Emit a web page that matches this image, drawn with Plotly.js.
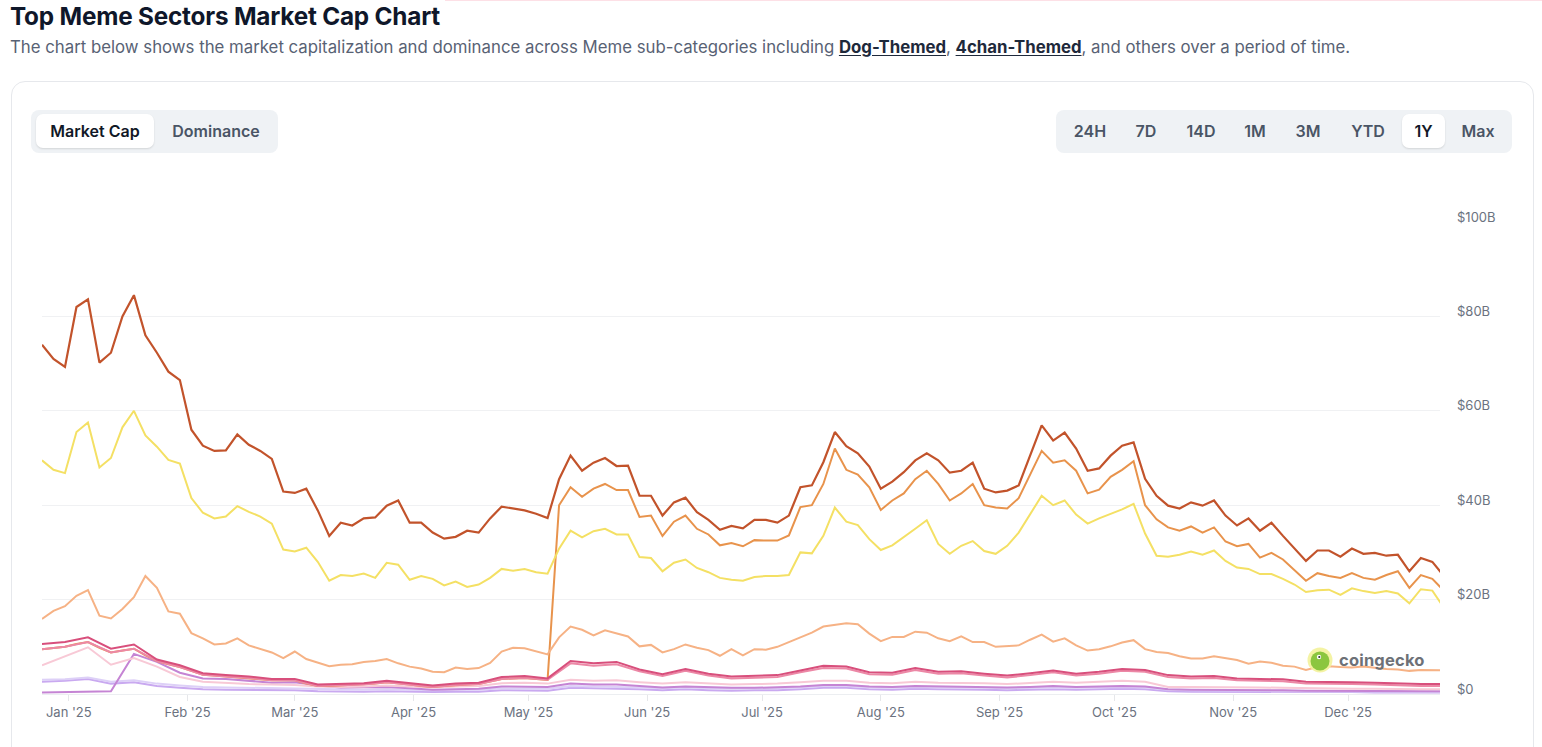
<!DOCTYPE html>
<html>
<head>
<meta charset="utf-8">
<script src="https://cdn.plot.ly/plotly-3.0.1.min.js"></script>
<style>
  html, body { margin:0; padding:0; background:#fff; width:1542px; height:747px; overflow:hidden; font-family: Inter, "Noto Sans", sans-serif; }
  .topline { position:absolute; left:445px; top:0; width:1097px; height:1px; background:#fde0e6; }
  .title { position:absolute; left:10px; top:1px; font-size:24.3px; font-weight:700; color:#0f172a; letter-spacing:-0.2px; }
  .sub { position:absolute; left:10px; top:37px; font-size:16.8px; color:#586274; }
  .sub b { color:#1e293b; font-weight:700; text-decoration:underline; text-underline-offset:2px; }
  .card { position:absolute; left:11px; top:81px; width:1521px; height:720px; border:1px solid #e6e8ec; border-radius:14px; }
  .grp { position:absolute; top:110px; height:43px; background:#eff2f5; border-radius:8px; }
  .btn { position:absolute; top:4px; height:34px; line-height:34px; font-size:16px; font-weight:600; color:#4a5565; text-align:center; }
  .btn.on { background:#fff; color:#111827; border-radius:7px; box-shadow:0 1px 2px rgba(0,0,0,0.12); }
  #chart { position:absolute; left:0; top:0; width:1542px; height:747px; }
  .wm { position:absolute; left:1307px; top:647px; height:26px; display:flex; align-items:center; }
  .wm span { font-size:16.5px; font-weight:700; color:#6e7177; margin-left:6px; letter-spacing:0.2px; }
</style>
</head>
<body>
<div class="topline"></div>
<div class="card"></div>
<div id="chart"></div>
<div class="title">Top Meme Sectors Market Cap Chart</div>
<div class="sub">The chart below shows the market capitalization and dominance across Meme sub-categories including <b>Dog-Themed</b>, <b>4chan-Themed</b>, and others over a period of time.</div>
<div class="grp" style="left:31px;width:247px;">
  <div class="btn on" style="left:5px;width:118px;">Market Cap</div>
  <div class="btn" style="left:128px;width:114px;">Dominance</div>
</div>
<div class="grp" style="left:1056px;width:456px;">
  <div class="btn" style="left:14px;width:40px;">24H</div>
  <div class="btn" style="left:74px;width:32px;">7D</div>
  <div class="btn" style="left:124px;width:42px;">14D</div>
  <div class="btn" style="left:183px;width:32px;">1M</div>
  <div class="btn" style="left:236px;width:32px;">3M</div>
  <div class="btn" style="left:292px;width:40px;">YTD</div>
  <div class="btn on" style="left:346px;width:43px;">1Y</div>
  <div class="btn" style="left:402px;width:40px;">Max</div>
</div>
<div class="wm">
  <svg width="26" height="26" viewBox="0 0 26 26">
    <circle cx="13" cy="13" r="12.5" fill="#f3f29a" opacity="0.9"/>
    <circle cx="13" cy="14" r="9.5" fill="#8cc63f"/>
    <circle cx="12" cy="10" r="2.2" fill="#fff"/>
    <circle cx="12.3" cy="10" r="1.1" fill="#333"/>
  </svg>
  <span>coingecko</span>
</div>
<script>
// ---- categories (dates) ----
const START_DATE = "2024-12-25";
const STEP_MAIN = 3;   // days between points of the large series
const STEP_SMALL = 6;  // days between points of the small series
const RANGE_X = ["2024-12-25", "2025-12-25"];
const monthTicks = ["2025-01-01","2025-02-01","2025-03-01","2025-04-01","2025-05-01","2025-06-01","2025-07-01","2025-08-01","2025-09-01","2025-10-01","2025-11-01","2025-12-01"];
const monthLabels = ["Jan '25","Feb '25","Mar '25","Apr '25","May '25","Jun '25","Jul '25","Aug '25","Sep '25","Oct '25","Nov '25","Dec '25"];
const yTicks = [0,20,40,60,80,100];
const yLabels = ["$0","$20B","$40B","$60B","$80B","$100B"];

// ---- series values, billions USD ----
const dogThemed = [74,71,69.3,82,83.6,70.2,72.3,80,84.5,76,72.3,68.3,66.5,56,52.6,51.5,51.6,55,52.8,51.5,49.8,42.9,42.6,43.5,38.9,33.5,36.3,35.7,37.2,37.4,39.9,41,36.3,36.3,34.2,32.9,33.3,34.6,34.2,37.2,39.7,39.3,38.9,38.2,37.3,45.5,50.5,47.3,49,50,48.3,48.4,42,42,37.8,40.6,41.6,38.5,36.9,34.8,35.6,35.1,36.9,36.9,36.3,37.8,43.8,44.2,49.1,55.5,52.5,51,48.2,43.5,45,47,49.5,51,49.5,46.9,47.3,49,43.5,42.7,43.1,44.2,50.5,56.9,53.7,55.4,52,47.3,47.8,50.5,52.6,53.3,45.6,42,39.9,39.3,40.6,39.9,41,37.8,35.7,37.2,34.6,36.3,33.5,30.8,28.2,30.4,30.4,29.1,30.8,29.7,29.9,29.3,29.5,26,28.8,28,25];
const elonInspired = [9.5,9.8,10,10.6,11,9.8,8.8,9.2,9.6,8.2,7,6.3,5.7,4.9,4.1,3.9,3.7,3.6,3.4,3.2,2.9,2.9,2.9,2.2,1.7,1.7,1.8,1.9,2,2.2,2.5,2.3,2,1.7,1.5,1.7,1.9,2,2.1,2.6,3.2,3.3,3.4,3.2,3,40,43.8,41.8,43.5,44.5,43.2,43.2,37.5,37.8,33.5,36.5,37.8,35,33.8,31.5,32,31.3,32.6,32.5,32.5,33.6,39.6,40,44.5,52,47.5,46.5,43.8,39,41,42.5,45.5,47.3,44.5,41,42.5,44.5,40,39.5,39.3,41.5,46.5,51.5,49,49.5,47.3,42.5,43.3,46,47.5,49.3,40,37,35.3,34.6,35.5,34.2,35.3,32.3,31.3,31.8,28.9,29.9,28.5,26.3,24,25.6,25,24.6,25.6,24.6,24.2,25.2,26,22.5,25.2,24.4,21.9];
const dogeThemed = [49.5,47.5,46.8,55.5,57.5,48,50,56.5,60,54.8,52.4,49.6,48.8,41.5,38.4,37.2,37.6,39.8,38.6,37.6,36.1,30.6,30.2,31,28,24,25.2,25,25.5,24.6,27.8,27.4,24.2,25,24.4,23,23.8,22.7,23.2,24.6,26.5,26.1,26.5,25.8,25.5,30.8,34.6,33.2,34.5,35,33.8,33.8,29,28.8,26,27.8,28.5,26.7,25.8,24.6,24.2,24,24.8,25,25,25.2,30,29.8,33.5,39.5,36.5,35.8,32.8,30.5,31.5,33.2,35,36.8,31.8,29.7,31.4,32.4,30.3,29.7,31.4,34.2,38.2,42,40,41,38,36.1,37.2,38.2,39.1,40.3,34,29.3,29.1,29.5,30.2,29.5,30.4,28.2,26.8,26.5,25.4,25.4,24.4,23.2,21.6,22,22.1,21,22.4,21.8,21.4,21.8,21.3,19.2,22.2,21.9,18.3];
const chan4Themed = [15.9,17.6,18.6,20.8,22,16.6,16,18,20.5,25,22.5,17.5,17,12.9,11.8,10.5,10.7,11.8,10.3,9.6,8.8,7.6,9,7.4,6.6,5.9,6.2,6.3,6.8,7,7.4,6.5,5.8,5.4,4.7,4.6,5.6,5.3,5.5,6.6,9,9.8,9.7,9,8.4,12,14.3,13.6,12.4,13.5,12.8,12.2,10.1,10.4,8.8,9.5,10.5,9.8,9.3,8.1,9.5,8.2,9.5,9.4,10,11,12,13,14.3,14.6,15,14.8,12.8,11.2,12.1,12.1,13.2,13,11.8,11.2,12.2,11,11,10,10.2,10.3,11.5,12.6,11.1,11.8,10.3,9.2,9.5,10.1,10.9,11.4,9.5,8.9,8.7,8,7.5,7.5,8,7.6,7.2,6.4,6.9,6.6,6,5.8,5.1,5.7,5.9,5.7,5.6,5.8,5.5,5.3,5.2,4.9,5.1,5,5];
const frogThemed = [10.6,11,12,9.6,10.5,7.3,6.1,4.4,4,3.7,3.2,3.2,2,2.1,2.3,2.8,2.3,1.8,2.2,2.4,3.6,3.8,3.3,7,6.5,6.8,5.2,4.2,5.3,4.3,3.7,3.9,4,5,6,5.8,4.6,4.5,5.5,4.7,4.8,4.3,3.9,4.4,5,4.3,4.7,5.3,5.1,4,3.7,3.8,3.3,3.2,3.1,2.6,2.6,2.5,2.4,2.2,2.1,2.1];
const solanaMeme = [9.5,10,11,8.8,9.6,7,5.7,4.1,3.7,3.4,2.9,2.9,1.7,1.8,2,2.5,2,1.5,1.9,2.1,3.2,3.4,3,6.5,6,6.3,4.8,3.8,4.9,3.9,3.3,3.5,3.6,4.6,5.5,5.4,4.2,4.1,5.1,4.3,4.4,3.9,3.5,4,4.6,3.9,4.3,4.9,4.7,3.6,3.3,3.4,2.9,2.8,2.7,2.2,2.2,2.1,2,1.8,1.7,1.7];
const catThemed = [6.1,8,9.9,6.2,7.6,5.8,3.6,2.6,2.3,2.1,2,1.9,1.6,1.5,1.6,1.8,1.6,1.4,1.6,1.7,2.3,2.4,2.2,3,2.8,2.9,2.5,2.2,2.5,2.2,2,2.1,2.2,2.5,2.8,2.8,2.4,2.3,2.6,2.4,2.4,2.3,2.1,2.4,2.6,2.4,2.6,2.8,2.6,1.5,1.5,1.5,1.4,1.4,1.3,1.2,1.2,1.1,1.1,1,1,1];
const politiFi = [0.3,0.4,0.5,0.6,8.5,6.8,4.5,3.3,3.2,2.8,2.4,2.5,1.8,1.4,1.5,1.5,1.2,0.9,1,1.1,1.6,1.6,1.5,2.2,2,2,1.7,1.4,1.6,1.4,1.3,1.3,1.4,1.6,1.9,1.9,1.6,1.5,1.7,1.6,1.6,1.5,1.4,1.5,1.7,1.5,1.6,1.7,1.6,1,0.9,0.9,0.8,0.8,0.8,0.7,0.7,0.7,0.6,0.6,0.6,0.6];
const aiMeme = [2.6,2.8,3.2,2.2,2.5,1.7,1.3,1,0.9,0.9,0.8,0.8,0.6,0.5,0.5,0.6,0.5,0.4,0.5,0.5,0.8,0.8,0.7,1.3,1.2,1.2,1,0.8,1,0.8,0.7,0.8,0.8,1,1.3,1.3,1,0.9,1.1,1,1,0.9,0.8,0.9,1,0.9,1,1.1,1,0.6,0.5,0.5,0.5,0.5,0.4,0.4,0.4,0.4,0.3,0.3,0.3,0.3];
const baseMeme = [3,3.1,3.5,2.6,2.9,2.2,1.8,1.5,1.4,1.3,1.2,1.2,1,0.9,0.9,1,0.9,0.8,0.9,0.9,1.2,1.2,1.1,1.7,1.6,1.6,1.4,1.2,1.4,1.2,1.1,1.2,1.2,1.4,1.7,1.7,1.4,1.3,1.5,1.4,1.4,1.3,1.2,1.3,1.4,1.3,1.4,1.5,1.4,0.9,0.8,0.8,0.8,0.7,0.7,0.6,0.6,0.6,0.6,0.5,0.5,0.5];

function dates(step, n) {
  const out = [];
  const t0 = Date.parse(START_DATE + "T00:00:00Z");
  for (let i = 0; i < n; i++) out.push(new Date(t0 + i * step * 86400000).toISOString().slice(0, 10));
  return out;
}
const xMain = dates(STEP_MAIN, dogThemed.length);
const xSmall = dates(STEP_SMALL, frogThemed.length);

function tr(name, x, y, color, w) {
  return { type:"scatter", mode:"lines", name:name, x:x, y:y, line:{color:color, width:w||2}, hoverinfo:"skip" };
}
const traces = [
  tr("AI Meme", xSmall, aiMeme, "#c9a9f0"),
  tr("Base Meme", xSmall, baseMeme, "#ddd0f7"),
  tr("PolitiFi", xSmall, politiFi, "#c584d4"),
  tr("Cat-Themed", xSmall, catThemed, "#f8c9d6"),
  tr("Elon Musk-Inspired", xMain, elonInspired, "#e8934c"),
  tr("Solana Meme", xSmall, solanaMeme, "#ec88a6"),
  tr("Frog-Themed", xSmall, frogThemed, "#d84f7c"),
  tr("4chan-Themed", xMain, chan4Themed, "#f6b285"),
  tr("Doge-Themed", xMain, dogeThemed, "#f4e064"),
  tr("Dog-Themed", xMain, dogThemed, "#c2532b", 2.2)
];

const tickFont = { family:"Inter, sans-serif", size:13, color:"#6b7280" };
const layout = {
  width:1542, height:747,
  margin:{ l:42, r:102, t:222, b:53 },
  paper_bgcolor:"rgba(0,0,0,0)", plot_bgcolor:"rgba(0,0,0,0)",
  showlegend:false,
  xaxis:{
    type:"date", range:RANGE_X, tickmode:"array", tickvals:monthTicks, ticktext:monthLabels,
    ticks:"outside", ticklen:6, tickcolor:"#e6e7ea", showgrid:false, zeroline:false,
    showline:true, linecolor:"#eceef1", tickfont:tickFont, fixedrange:true
  },
  yaxis:{
    side:"right", range:[0,100], tickmode:"array", tickvals:yTicks, ticktext:yLabels,
    showgrid:true, gridcolor:"#f0f1f3", zeroline:false, showline:false, ticks:"",
    tickfont:tickFont, ticklabelstandoff:16, ticklabelshift:-5, fixedrange:true
  }
};
Plotly.newPlot("chart", traces, layout, { displayModeBar:false, staticPlot:true });
</script>
</body>
</html>
